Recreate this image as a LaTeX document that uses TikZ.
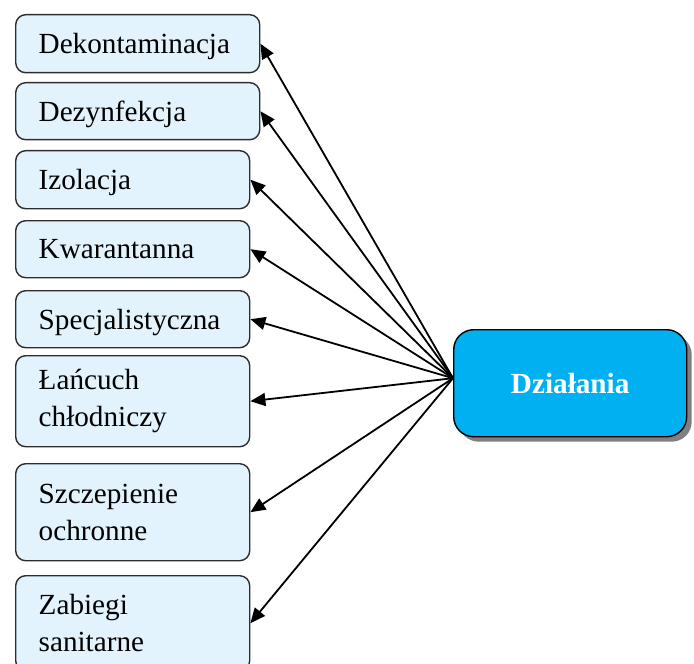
\documentclass[tikz,border=0pt]{standalone}
\usepackage{fontspec}
\setmainfont{Liberation Serif}
\definecolor{BoxFill}  {RGB}{226,243,254}
\definecolor{BoxEdge}  {RGB}{45,45,45}
\definecolor{ActBlue}  {RGB}{0,176,240}
\usetikzlibrary{arrows.meta,shadows}

\begin{document}
\begin{tikzpicture}[x=0.5pt,y=-0.5pt,
    item/.style={draw=BoxEdge,line width=0.7pt,fill=BoxFill,
                 rounded corners=5pt,anchor=north west,align=left,
                 inner xsep=11.5pt,inner ysep=0pt,text width=94pt,
                 font=\fontsize{14.6}{18.3}\selectfont},
    oneline/.style={text depth=0pt},
    wide/.style={text width=99pt},
    arr/.style={-{Triangle[length=7.5pt,width=6.5pt]},line width=0.9pt}]
  \useasboundingbox (0,0) rectangle (694,663);
  %% Activity list on the left
  \node[item,oneline,wide,minimum height=29pt]   (dek) at (15,14)  {Dekontaminacja};
  \node[item,oneline,wide,minimum height=28.5pt] (dez) at (15,82)  {Dezynfekcja};
  \node[item,oneline,minimum height=29pt]        (izo) at (15,150) {Izolacja};
  \node[item,oneline,minimum height=28.5pt]      (kwa) at (15,220) {Kwarantanna};
  \node[item,oneline,minimum height=28.5pt]      (spe) at (15,290) {Specjalistyczna};
  \node[item,minimum height=45.5pt]      (lan) at (15,355) {Łańcuch\\chłodniczy};
  \node[item,minimum height=48.5pt]      (szc) at (15,463) {Szczepienie\\ochronne};
  \node[item,minimum height=47.5pt]      (zab) at (15,575) {Zabiegi\\sanitarne};
  %% Central box with shadow
  \node[draw=black,line width=0.7pt,fill=ActBlue,rounded corners=10pt,
        minimum width=116.5pt,minimum height=53.5pt,anchor=north west,
        drop shadow={shadow xshift=2.5pt,shadow yshift=-2.5pt,fill=black!50,opacity=1},
        text=white,font=\fontsize{14.6}{18}\selectfont\bfseries]
       (dz) at (453,329) {Działania};
  %% Fan of arrows from the west side
  \coordinate (src) at ([yshift=2.5pt]dz.west);
  \foreach \b in {dek,dez,izo,kwa,spe,lan,szc,zab}
    \draw[arr] (src) -- (\b.east);
\end{tikzpicture}
\end{document}
